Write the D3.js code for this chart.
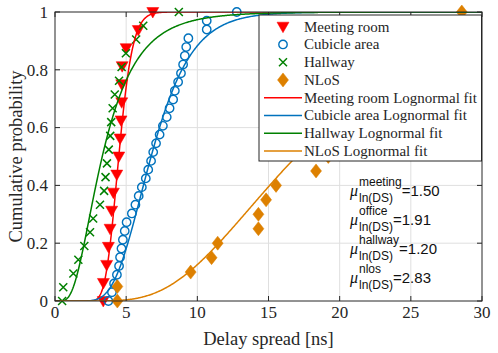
<!DOCTYPE html>
<meta charset="utf-8">
<style>
body{margin:0;background:white}
text{font-family:"Liberation Serif","Times New Roman",serif;fill:#262626}
.grid line{stroke:#dfdfdf;stroke-width:1}
.frame{fill:none;stroke:#262626;stroke-width:1}
.mu text{font-family:"Liberation Sans",Arial,sans-serif;fill:#111}
</style>
<svg width="498" height="353"></svg>
<script src="https://d3js.org/d3.v7.min.js"></script>
<script>
// delay spread samples [ns], sorted (empirical CDF)
var meetingDS = [3.39, 3.40, 3.63, 3.75, 3.87, 3.98, 4.10, 4.34, 4.48, 4.57, 4.64, 4.69, 4.69, 4.72, 5.00, 5.85, 6.87];
var cubicleDS = [3.75, 4.00, 4.15, 4.35, 4.50, 4.57, 4.67, 4.77, 4.90, 5.03, 5.40, 5.65, 5.88, 6.10, 6.38, 6.55, 6.75,
                 6.90, 7.10, 7.35, 7.58, 7.85, 8.05, 8.30, 8.42, 8.65, 8.85, 9.00, 9.12, 9.22, 9.37, 10.66, 10.66, 12.77];
var hallwayDS = [0.50, 0.58, 1.29, 1.64, 2.06, 2.46, 2.68, 3.16, 3.45, 3.55, 3.65, 3.78, 3.88, 3.95, 4.05, 4.20,
                 4.50, 4.68, 4.98, 5.70, 6.20, 8.70];
var nlosDS = [4.38, 4.38, 9.53, 11.0, 11.43, 14.29, 14.29, 14.83, 15.53, 18.34, 19.2, 19.8, 20.4, 21.2, 21.9,
              22.6, 23.5, 24.6, 25.8, 27.0, 28.58];

// lognormal fit parameters
var fitMu = [1.50, 1.91, 1.20, 2.83];
var fitSigma = [0.17, 0.33, 0.57, 0.46];

var seriesNames = ["Meeting room", "Cubicle area", "Hallway", "NLoS"];
var colors = ["#ff0000", "#0072bd", "#008000", "#dd8000"];
var markers = ["tri", "circle", "x", "diamond"];
var muTags = ["meeting", "office", "hallway", "nlos"];

var xTicks = [0, 5, 10, 15, 20, 25, 30];
var yTicks = [0, 0.2, 0.4, 0.6, 0.8, 1];

var svg = d3.select("svg");
var m = {l: 55, r: 482, t: 12, b: 301};

var x = d3.scaleLinear().domain([0, 30]).range([m.l, m.r]);
var y = d3.scaleLinear().domain([0, 1]).range([m.b, m.t]);

// grid
var grid = svg.append("g").attr("class", "grid");
grid.selectAll(".gx").data(xTicks.slice(1, -1)).enter().append("line")
    .attr("x1", d => x(d)).attr("x2", d => x(d)).attr("y1", m.t).attr("y2", m.b);
grid.selectAll(".gy").data(yTicks.slice(1, -1)).enter().append("line")
    .attr("y1", d => y(d)).attr("y2", d => y(d)).attr("x1", m.l).attr("x2", m.r);

svg.append("clipPath").attr("id", "clip").append("rect")
    .attr("x", m.l).attr("y", m.t).attr("width", m.r - m.l).attr("height", m.b - m.t);

function erf(z) {
  var s = z < 0 ? -1 : 1; z = Math.abs(z);
  var t = 1 / (1 + 0.3275911 * z);
  var p = ((((1.061405429 * t - 1.453152027) * t + 1.421413741) * t - 0.284496736) * t + 0.254829592) * t;
  return s * (1 - p * Math.exp(-z * z));
}
function lognCdf(v, mu, s) {
  if (v <= 0) return 0;
  return 0.5 * (1 + erf((Math.log(v) - mu) / (s * Math.SQRT2)));
}

function markerPath(type) {
  if (type == "tri") return "M-6,-4.5L6,-4.5L0,6Z";
  if (type == "diamond") return "M0,-7L5.5,0L0,7L-5.5,0Z";
  if (type == "x") return "M-4,-4L4,4M-4,4L4,-4";
  return null;
}

function drawMarker(g, type, col) {
  if (type == "circle") {
    g.append("circle").attr("r", 4.2).attr("fill", "none").attr("stroke", col).attr("stroke-width", 1.4);
  } else if (type == "x") {
    g.append("path").attr("d", markerPath(type)).attr("fill", "none").attr("stroke", col).attr("stroke-width", 1.5);
  } else {
    g.append("path").attr("d", markerPath(type)).attr("fill", col).attr("stroke", col).attr("stroke-width", 0.5);
  }
}

var allData = [meetingDS, cubicleDS, hallwayDS, nlosDS];

// data markers
allData.forEach(function(ds, k) {
  var g = svg.append("g");
  ds.forEach(function(v, i) {
    var mg = g.append("g").attr("transform", "translate(" + x(v) + "," + y(i / (ds.length - 1)) + ")");
    drawMarker(mg, markers[k], colors[k]);
  });
});

// fitted curves
var grid_x = d3.range(0, 30.001, 0.05);
var line = d3.line().x(d => x(d[0])).y(d => y(d[1]));
fitMu.forEach(function(mu, k) {
  svg.append("path")
      .attr("clip-path", "url(#clip)")
      .attr("d", line(grid_x.map(v => [v, lognCdf(v, mu, fitSigma[k])])))
      .attr("fill", "none").attr("stroke", colors[k]).attr("stroke-width", 1.5);
});

// axes box + ticks
svg.append("rect").attr("class", "frame")
    .attr("x", m.l).attr("y", m.t).attr("width", m.r - m.l).attr("height", m.b - m.t);
var tk = svg.append("g").attr("stroke", "#262626");
xTicks.forEach(function(d) {
  tk.append("line").attr("x1", x(d)).attr("x2", x(d)).attr("y1", m.b).attr("y2", m.b - 5);
  tk.append("line").attr("x1", x(d)).attr("x2", x(d)).attr("y1", m.t).attr("y2", m.t + 5);
});
yTicks.forEach(function(d) {
  tk.append("line").attr("y1", y(d)).attr("y2", y(d)).attr("x1", m.l).attr("x2", m.l + 5);
  tk.append("line").attr("y1", y(d)).attr("y2", y(d)).attr("x1", m.r).attr("x2", m.r - 5);
});

svg.append("g").selectAll("text").data(xTicks).enter().append("text")
    .attr("x", d => x(d)).attr("y", 318).attr("text-anchor", "middle")
    .style("font-size", "17px").text(d => d);
svg.append("g").selectAll("text").data(yTicks).enter().append("text")
    .attr("x", 48).attr("y", d => y(d)).attr("dy", "0.34em").attr("text-anchor", "end")
    .style("font-size", "17px").text(d => d);

svg.append("text").attr("x", (m.l + m.r) / 2).attr("y", 345).attr("text-anchor", "middle")
    .style("font-size", "18.5px").text("Delay spread [ns]");
svg.append("text").attr("transform", "translate(22," + (m.t + m.b) / 2 + ") rotate(-90)")
    .attr("text-anchor", "middle").style("font-size", "18.5px").text("Cumulative probability");

// mu annotations
var muG = svg.append("g").attr("class", "mu");
fitMu.forEach(function(mu, k) {
  var by = 196 + k * 29, x0 = 350;
  muG.append("text").attr("x", x0).attr("y", by).style("font-size", "16px")
      .style("font-family", "'Liberation Serif',serif").style("font-style", "italic").text("\u03bc");
  var sup = muG.append("text").attr("x", x0 + 9).attr("y", by - 10).style("font-size", "12px").text(muTags[k]);
  var sub = muG.append("text").attr("x", x0 + 9).attr("y", by + 5.5).style("font-size", "12px").text("ln(DS)");
  var w = Math.max(sup.node().getComputedTextLength(), sub.node().getComputedTextLength());
  muG.append("text").attr("x", x0 + 9 + w).attr("y", by).style("font-size", "15px").text("=" + mu.toFixed(2));
});

// legend
var lg = svg.append("g");
lg.append("rect").attr("x", 259).attr("y", 15).attr("width", 222.5).attr("height", 146)
    .attr("fill", "white").attr("stroke", "#262626").attr("stroke-width", 1);
var entries = [];
seriesNames.forEach((n, k) => entries.push({label: n, k: k, fit: false}));
seriesNames.forEach((n, k) => entries.push({label: n + " Lognormal fit", k: k, fit: true}));
entries.forEach(function(e, i) {
  var cy = 26.7 + i * 17.75;
  if (e.fit) {
    lg.append("line").attr("x1", 264).attr("x2", 302).attr("y1", cy).attr("y2", cy)
        .attr("stroke", colors[e.k]).attr("stroke-width", 1.5);
  } else {
    drawMarker(lg.append("g").attr("transform", "translate(283," + cy + ")"), markers[e.k], colors[e.k]);
  }
  lg.append("text").attr("x", 304).attr("y", cy + 5).style("font-size", "15px").text(e.label);
});
</script>
